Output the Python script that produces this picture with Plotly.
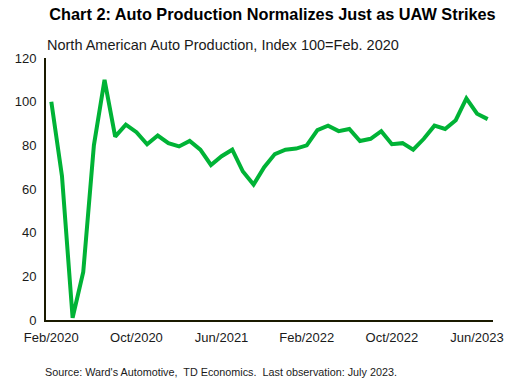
import plotly.graph_objects as go

months = [
    "Feb/2020", "Mar/2020", "Apr/2020", "May/2020", "Jun/2020", "Jul/2020", "Aug/2020", "Sep/2020",
    "Oct/2020", "Nov/2020", "Dec/2020", "Jan/2021", "Feb/2021", "Mar/2021", "Apr/2021", "May/2021",
    "Jun/2021", "Jul/2021", "Aug/2021", "Sep/2021", "Oct/2021", "Nov/2021", "Dec/2021", "Jan/2022",
    "Feb/2022", "Mar/2022", "Apr/2022", "May/2022", "Jun/2022", "Jul/2022", "Aug/2022", "Sep/2022",
    "Oct/2022", "Nov/2022", "Dec/2022", "Jan/2023", "Feb/2023", "Mar/2023", "Apr/2023", "May/2023",
    "Jun/2023", "Jul/2023",
]
production_index = [
    100, 66, 1, 22, 80, 110, 84, 89.5,
    86, 80.5, 84.5, 81, 79.5, 82, 78, 71,
    75, 78, 68, 62, 70, 76, 78, 78.5,
    80, 87, 89, 86.5, 87.5, 82, 83, 86.5,
    80.5, 81, 78, 83, 89, 87.5, 91.5, 101.5,
    94.5, 92,
]
tick_labels = ["Feb/2020", "Oct/2020", "Jun/2021", "Feb/2022", "Oct/2022", "Jun/2023"]
y_ticks = [0, 20, 40, 60, 80, 100, 120]

FONT = "Arial, Liberation Sans, sans-serif"

fig = go.Figure()
fig.add_trace(go.Scatter(
    x=months, y=production_index, mode="lines",
    line=dict(color="#00B336", width=4),
    hoverinfo="x+y",
))

fig.update_layout(
    width=519, height=385,
    margin=dict(l=46, r=26, t=58, b=65),
    paper_bgcolor="white", plot_bgcolor="white",
    showlegend=False,
    font=dict(family=FONT, size=13, color="#1a1a1a"),
    title=dict(
        text="<b>Chart 2: Auto Production Normalizes Just as UAW Strikes</b>",
        x=272.5 / 519, xanchor="center", xref="container",
        y=1 - 14 / 385, yanchor="middle", yref="container",
        font=dict(family=FONT, size=16.3, color="black"),
    ),
    xaxis=dict(
        type="category",
        categoryorder="array", categoryarray=months,
        range=[-0.5, len(months) - 0.5],
        tickmode="array", tickvals=tick_labels, ticktext=tick_labels,
        showgrid=False, zeroline=False,
        showline=True, linecolor="#1a1a00", linewidth=2,
        ticks="", ticklabelstandoff=4,
        tickfont=dict(size=13, color="#1a1a1a"),
    ),
    yaxis=dict(
        range=[0, 120],
        tickmode="array", tickvals=y_ticks,
        showgrid=False, zeroline=False,
        showline=True, linecolor="#1a1a00", linewidth=2,
        ticks="", ticklen=0, ticklabelstandoff=5,
        tickfont=dict(size=13, color="#1a1a1a"),
    ),
    annotations=[
        dict(
            text="North American Auto Production, Index 100=Feb. 2020",
            xref="paper", yref="paper", x=-0.003, y=(320 - 45) / 262,
            xanchor="left", yanchor="middle", showarrow=False,
            font=dict(family=FONT, size=14.5, color="#1a1a1a"),
        ),
        dict(
            text="Source: Ward's Automotive,  TD Economics.  Last observation: July 2023.",
            xref="paper", yref="paper", x=-0.007, y=(320 - 372) / 262,
            xanchor="left", yanchor="middle", showarrow=False,
            font=dict(family=FONT, size=10.8, color="#1a1a1a"),
        ),
    ],
)

fig.write_html(
    "out.html",
    config={"displayModeBar": False},
    post_script="document.body.style.margin='0';",
)
